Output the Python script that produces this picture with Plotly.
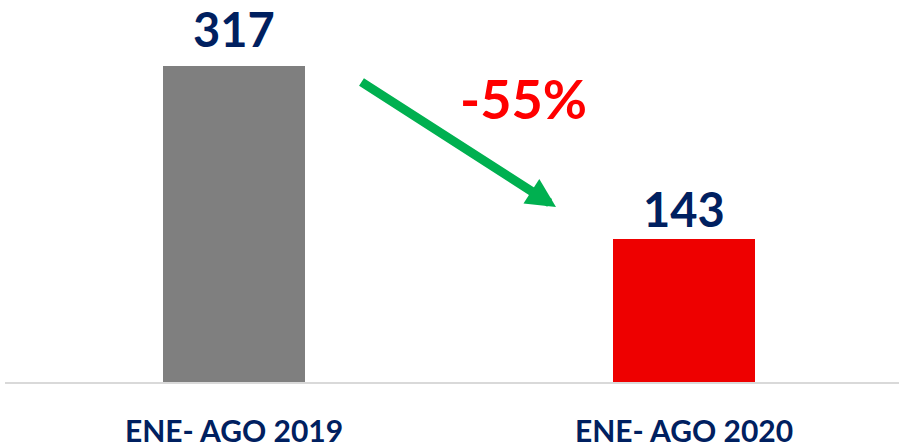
import plotly.graph_objects as go

categories = ["ENE- AGO 2019", "ENE- AGO 2020"]
values = [317, 143]
change_label = "-55%"

bar_colors = ["#7F7F7F", "#EE0000"]
navy = "#002060"
label_shift = [37, 30]
FONT = "Lato, 'Open Sans', Arial, sans-serif"

x = list(range(len(categories)))

fig = go.Figure()
fig.add_trace(go.Bar(
    x=x, y=values, width=0.3156,
    marker=dict(color=bar_colors, line=dict(width=0)),
    hoverinfo="skip",
))

for xi, v, s in zip(x, values, label_shift):
    fig.add_annotation(x=xi, y=v, xref="x", yref="y", text=f"<b>{v}</b>",
                       showarrow=False, yanchor="middle", yshift=s,
                       font=dict(family=FONT, size=47, color=navy))

# change label
fig.add_annotation(x=(523 - 5) / 894, y=(382 - 99) / 382, xref="paper", yref="paper",
                   text=f"<b>{change_label}</b>", showarrow=False,
                   xanchor="center", yanchor="middle",
                   font=dict(family=FONT, size=54, color="#FF0000"))

# arrow
fig.add_annotation(x=(556 - 5) / 894, y=(382 - 207) / 382, xref="paper", yref="paper",
                   ax=-196, ay=-126, axref="pixel", ayref="pixel",
                   text="", showarrow=True, arrowhead=2, arrowwidth=9,
                   arrowsize=0.65, arrowcolor="#00B050")

fig.update_layout(
    width=899, height=445,
    margin=dict(l=5, r=0, t=0, b=63, autoexpand=False),
    paper_bgcolor="white", plot_bgcolor="white",
    showlegend=False,
    bargap=0,
    xaxis=dict(range=[-229 / 450, 1 + 215 / 450], tickvals=x, ticktext=[f"<b>{c}</b>" for c in categories],
               tickfont=dict(family=FONT, size=30, color=navy),
               showline=True, linecolor="#D9D9D9", linewidth=2,
               showgrid=False, zeroline=False, ticks="", ticklabelstandoff=22,
               automargin=False, fixedrange=True),
    yaxis=dict(range=[0, 383], visible=False, showgrid=False, zeroline=False, fixedrange=True),
)

fig.write_html("out.html", config={"displayModeBar": False},
               post_script="document.body.style.margin='0';document.body.style.overflow='hidden';")
